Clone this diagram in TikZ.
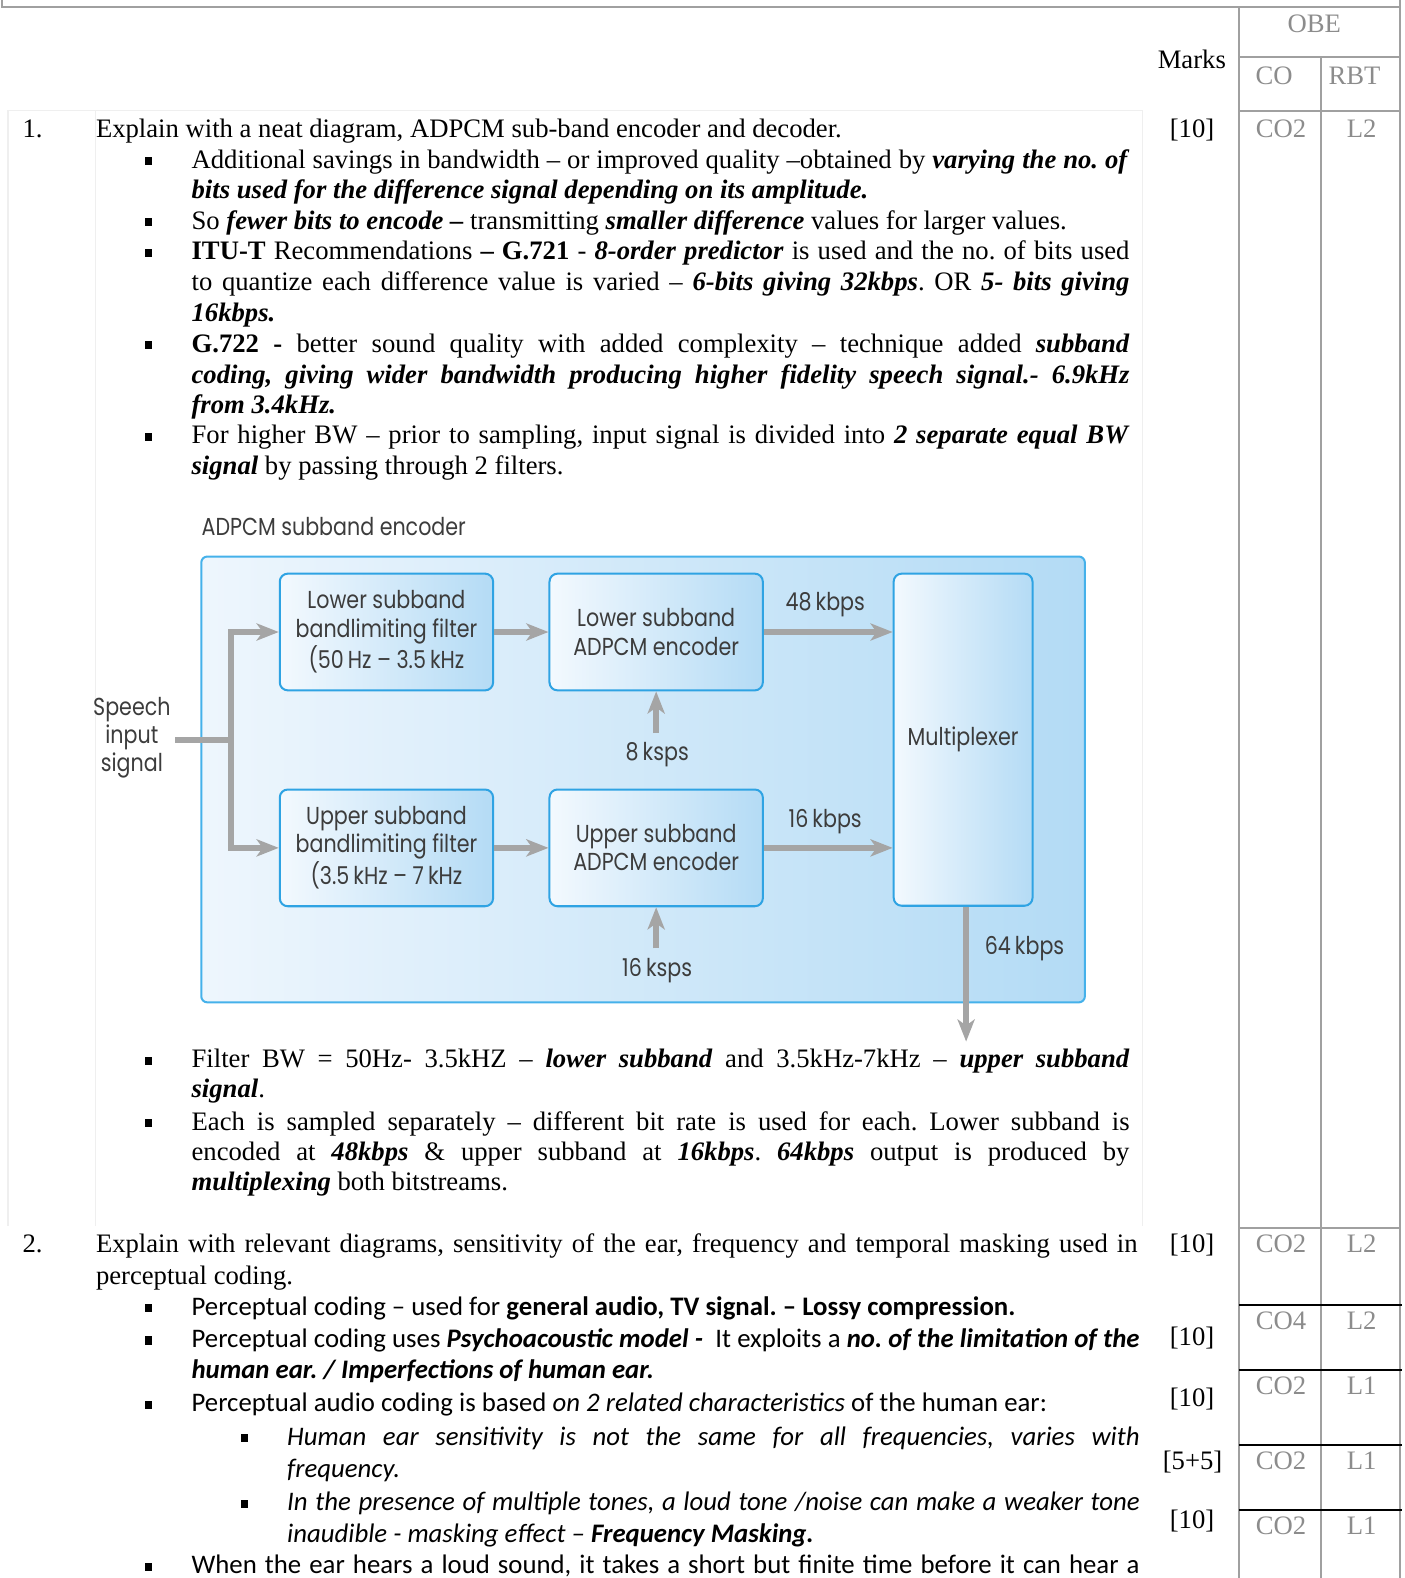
\documentclass[tikz,border=0pt]{standalone}
\usepackage{fontspec}
\setmainfont{Liberation Serif}
\newfontfamily\calfont{Carlito}
\newfontfamily\futfont[FakeStretch=0.84]{Poppins}
\usetikzlibrary{arrows.meta}

\definecolor{tgray}{HTML}{A0A0A0}
\definecolor{ggray}{HTML}{8C8C8C}
\definecolor{cellgray}{HTML}{EFEFEF}
\definecolor{agray}{HTML}{A5A5A5}
\definecolor{dtxt}{HTML}{3C3C3C}
\definecolor{frameL}{HTML}{EEF6FD}
\definecolor{frameR}{HTML}{B3DBF5}
\definecolor{frameD}{HTML}{45B1EA}
\definecolor{boxL}{HTML}{F3F9FE}
\definecolor{boxR}{HTML}{B4DBF5}
\definecolor{boxD}{HTML}{2FA3E3}

\newcommand\bi[1]{\textbf{\textit{#1}}}
\newcommand\jl[2]{\makebox[#1][s]{#2}}
\newcommand\bulsq[2]{\fill (#1-3.5,#2-11) rectangle ++(7,8);}
\frenchspacing

\begin{document}
\begin{tikzpicture}[x=0.5pt,y=-0.5pt,
  tline/.style={draw=tgray, line width=1pt},
  bline/.style={draw=black, line width=1pt},
  tms/.style={font=\fontsize{13.25}{15}\selectfont, anchor=base west, inner sep=0pt},
  cal/.style={font=\calfont\fontsize{13.3}{15}\selectfont, anchor=base west, inner sep=0pt},
  gtxt/.style={font=\fontsize{13.25}{15}\selectfont, text=ggray, anchor=base, inner sep=0pt},
  dtext/.style={font=\futfont\fontsize{12.2}{14}\selectfont, text=dtxt, align=center, inner sep=0pt},
  outerbox/.style={draw=frameD, line width=1pt, rounded corners=3pt, left color=frameL, right color=frameR,
    minimum width=439pt, minimum height=221.5pt, inner sep=0pt},
  blk/.style={draw=boxD, line width=1pt, rounded corners=4pt, left color=boxL, right color=boxR,
    minimum width=106pt, minimum height=58pt, inner sep=0pt, align=center,
    font=\futfont\fontsize{12.2}{14}\selectfont, text=dtxt},
  gline/.style={draw=agray, line width=3pt},
  arr/.style={draw=agray, line width=3pt, -{Stealth[length=11pt,width=8.5pt,inset=3pt]}}
]
\useasboundingbox (0,0) rectangle (1396,1568);

% ---------- table frame ----------
\draw[tline] (2,0) -- (2,7) -- (1391,7);
\draw[tline] (1391,0) -- (1391,1568);
\draw[tline] (1231,7) -- (1231,1568);
\draw[tline] (1313,57) -- (1313,1568);
\draw[tline] (1231,57) -- (1391,57);
\draw[tline] (1231,110) -- (1391,110);
\draw[tline] (1231,1220) -- (1391,1220);
\draw[bline] (1231,1297) -- (1393,1297);
\draw[bline] (1231,1361) -- (1393,1361);
\draw[bline] (1231,1436) -- (1393,1436);
\draw[bline] (1231,1500) -- (1393,1500);
% faint text cell of question 1
\draw[cellgray, line width=0.6pt] (8,1218) -- (8,110) -- (1135,110) -- (1135,1218);
\draw[cellgray, line width=0.6pt] (95,110) -- (95,1218);

% ---------- header ----------
\node[gtxt] (obe) at (1306,32) {OBE};
\node[tms] (marks) at (1150,68) {Marks};
\node[gtxt] (co) at (1266,84) {CO};
\node[gtxt] (rbt) at (1346,84) {RBT};

% ---------- question 1 ----------
\node[tms] (q1n) at (22,137) {1.};
\node[tms] (q1) at (95,137) {Explain with a neat diagram, ADPCM sub-band encoder and decoder.};
\node[tms] (m1) at (1162,137) {[10]};
\node[gtxt] (c1) at (1273,137) {CO2};
\node[gtxt] (r1) at (1353,137) {L2};

\bulsq{148}{167}
\node[tms] (a1) at (190,167) {\jl{466pt}{Additional savings in bandwidth – or improved quality –obtained by \bi{varying the no. of}}};
\node[tms] (a2) at (190,197) {\bi{bits used for the difference signal depending on its amplitude.}};
\bulsq{148}{228}
\node[tms] (a3) at (190,228) {So \bi{fewer bits to encode –} transmitting \bi{smaller difference} values for larger values.};
\bulsq{148}{258}
\node[tms] (a4) at (190,258) {\jl{466pt}{\textbf{ITU-T} Recommendations \textbf{– G.721} - \bi{8-order predictor} is used and the no. of bits used}};
\node[tms] (a5) at (190,289) {\jl{466pt}{to quantize each difference value is varied – \bi{6-bits giving 32kbps}. OR \bi{5- bits giving}}};
\node[tms] (a6) at (190,319) {\bi{16kbps.}};
\bulsq{148}{350}
\node[tms] (a7) at (190,350) {\jl{466pt}{\textbf{G.722 -} better sound quality with added complexity – technique added \bi{subband}}};
\node[tms] (a8) at (190,381) {\jl{466pt}{\bi{coding, giving wider bandwidth producing higher fidelity speech signal.- 6.9kHz}}};
\node[tms] (a9) at (190,411) {\bi{from 3.4kHz.}};
\bulsq{148}{441}
\node[tms] (a10) at (190,441) {\jl{466pt}{For higher BW – prior to sampling, input signal is divided into \bi{2 separate equal BW}}};
\node[tms] (a11) at (190,471) {\bi{signal} by passing through 2 filters.};

% ---------- subband encoder block diagram ----------
\node[dtext, anchor=west] (title) at (200,523) {ADPCM subband encoder};
\node[outerbox] (frame) at (639,774.5) {};

\node[blk] (lf) at (384,628) {Lower subband\\bandlimiting filter\\(50\,Hz – 3.5\,kHz};
\node[blk] (le) at (652,628) {Lower subband\\ADPCM encoder};
\node[blk] (uf) at (384,842.5) {Upper subband\\bandlimiting filter\\(3.5\,kHz – 7\,kHz};
\node[blk] (ue) at (652,842.5) {Upper subband\\ADPCM encoder};
\node[blk, minimum width=69pt, minimum height=165pt] (mux) at (957,735) {Multiplexer};

\node[dtext] (speech) at (131,733) {Speech\\input\\signal};
\coordinate (inp) at (174,735);
\coordinate (split) at (230,735);
\draw[gline] (inp) -- (split);
\draw[arr] (split) |- (lf.west);
\draw[arr] (split) |- (uf.west);
\draw[arr] (lf.east) -- (le.west);
\draw[arr] (uf.east) -- (ue.west);
\draw[arr] (le.east) -- (le.east -| mux.west);
\draw[arr] (ue.east) -- (ue.east -| mux.west);

\node[dtext] (r48) at (820,601) {48\,kbps};
\node[dtext] (r16) at (820,816) {16\,kbps};
\node[dtext] (s8) at (653,750) {8\,ksps};
\node[dtext] (s16) at (653,964) {16\,ksps};
\node[dtext] (r64) at (1018,943) {64\,kbps};
\draw[arr] (s8.north -| le.south) ++(0,-9) -- (le.south);
\draw[arr] (s16.north -| ue.south) ++(0,-9) -- (ue.south);
\coordinate (mout) at (960,1035);
\draw[arr] (mux.south -| mout) -- (mout);

% ---------- after the diagram ----------
\bulsq{148}{1061}
\node[tms] (b1) at (190,1061) {\jl{466pt}{Filter BW = 50Hz- 3.5kHZ – \bi{lower subband} and 3.5kHz-7kHz – \bi{upper subband}}};
\node[tms] (b2) at (190,1091) {\bi{signal}.};
\bulsq{148}{1123}
\node[tms] (b3) at (190,1123) {\jl{466pt}{Each is sampled separately – different bit rate is used for each. Lower subband is}};
\node[tms] (b4) at (190,1153) {\jl{466pt}{encoded at \bi{48kbps} \& upper subband at \bi{16kbps}. \bi{64kbps} output is produced by}};
\node[tms] (b5) at (190,1183) {\bi{multiplexing} both bitstreams.};

% ---------- question 2 ----------
\node[tms] (q2n) at (22,1245) {2.};
\node[tms] (q2) at (95,1245) {\jl{517.5pt}{Explain with relevant diagrams, sensitivity of the ear, frequency and temporal masking used in}};
\node[tms] (q2b) at (95,1276) {perceptual coding.};
\node[tms] (m2) at (1162,1245) {[10]};
\node[gtxt] (c2) at (1273,1245) {CO2};
\node[gtxt] (r2) at (1353,1245) {L2};

\bulsq{148}{1307}
\node[cal] (p1) at (190,1307) {Perceptual coding – used for \textbf{general audio, TV signal. – Lossy compression.}};
\bulsq{148}{1339}
\node[cal] (p2) at (190,1339) {\jl{471pt}{Perceptual coding uses \bi{Psychoacoustic model -}\ \ It exploits a \bi{no. of the limitation of the}}};
\node[cal] (p3) at (190,1370) {\bi{human ear. / Imperfections of human ear.}};
\bulsq{148}{1403}
\node[cal] (p4) at (190,1403) {Perceptual audio coding is based \textit{on 2 related characteristics} of the human ear:};
\bulsq{243}{1436}
\node[cal] (p5) at (285,1436) {\jl{423.5pt}{\textit{Human ear sensitivity is not the same for all frequencies, varies with}}};
\node[cal] (p6) at (285,1468) {\textit{frequency.}};
\bulsq{243}{1501}
\node[cal] (p7) at (285,1501) {\jl{423.5pt}{\textit{In the presence of multiple tones, a loud tone /noise can make a weaker tone}}};
\node[cal] (p8) at (285,1533) {\textit{inaudible - masking effect –} \bi{Frequency Masking.}};
\bulsq{148}{1564}
\node[cal] (p9) at (190,1564) {\jl{471pt}{When the ear hears a loud sound, it takes a short but finite time before it can hear a}};

% marks and outcomes of question 2
\node[tms] (m3) at (1162,1337) {[10]};
\node[tms] (m4) at (1162,1398) {[10]};
\node[tms] (m5) at (1155,1460) {[5+5]};
\node[tms] (m6) at (1162,1519) {[10]};
\node[gtxt] (c3) at (1273,1321) {CO4};
\node[gtxt] (r3) at (1353,1321) {L2};
\node[gtxt] (c4) at (1273,1386) {CO2};
\node[gtxt] (r4) at (1353,1386) {L1};
\node[gtxt] (c5) at (1273,1460) {CO2};
\node[gtxt] (r5) at (1353,1460) {L1};
\node[gtxt] (c6) at (1273,1525) {CO2};
\node[gtxt] (r6) at (1353,1525) {L1};
\end{tikzpicture}
\end{document}
